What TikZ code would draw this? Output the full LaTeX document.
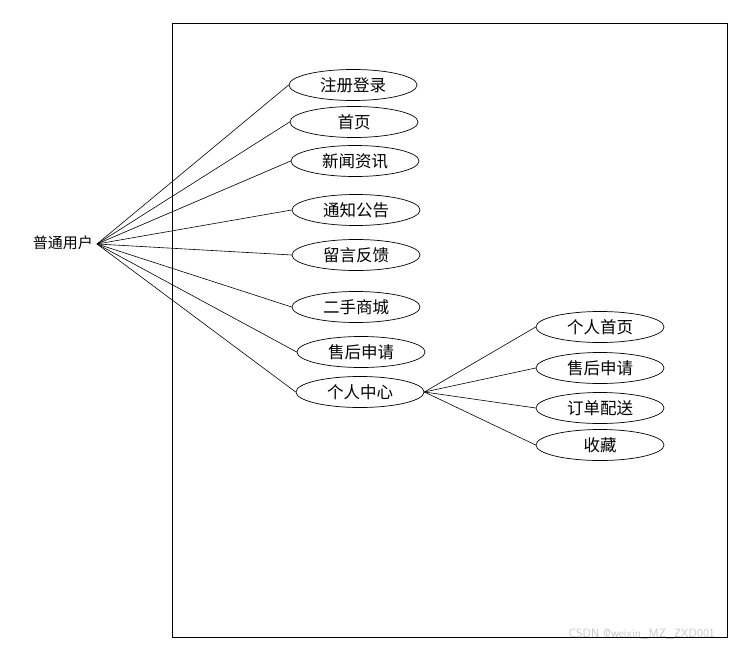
\documentclass[tikz,border=0pt]{standalone}
\usepackage{fontspec}
\usetikzlibrary{shapes.geometric}
\newfontfamily\cjk{Noto Sans CJK SC}
\begin{document}
\begin{tikzpicture}[x=1pt,y=-1pt,
  uc/.style={draw,ellipse,minimum width=128pt,minimum height=31pt,inner sep=0pt,font=\cjk\fontsize{16.5}{16.5}\selectfont,line width=0.7pt},
  conn/.style={line width=0.6pt}]
\useasboundingbox (0,0) rectangle (735,647);
\node[draw,line width=0.7pt,minimum width=555pt,minimum height=614pt,inner sep=0pt,anchor=north west] (sys) at (172,23) {};
\coordinate (act) at (97,244);
\node[anchor=east,font=\cjk\fontsize{15}{15}\selectfont,inner sep=0pt] (actor) at (93,243) {普通用户};
\node[uc] (u1) at (353,85) {注册登录};
\node[uc] (u2) at (354,122) {首页};
\node[uc] (u3) at (355,161) {新闻资讯};
\node[uc] (u4) at (356,210) {通知公告};
\node[uc] (u5) at (356,255) {留言反馈};
\node[uc] (u6) at (356,307) {二手商城};
\node[uc] (u7) at (361,352) {售后申请};
\node[uc] (u8) at (360,392) {个人中心};
\node[uc] (s1) at (600,327) {个人首页};
\node[uc] (s2) at (600,368) {售后申请};
\node[uc] (s3) at (600,408) {订单配送};
\node[uc] (s4) at (600,445) {收藏};
\foreach \u in {u1,u2,u3,u4,u5,u6,u7,u8}
  \draw[conn] (act) -- (\u.west);
\foreach \s in {s1,s2,s3,s4}
  \draw[conn] (u8.east) -- (\s.west);
\node[anchor=east,text=black!22,font=\sffamily\fontsize{12}{12}\selectfont,inner sep=0pt] (wm) at (715,634) {CSDN @weixin\_MZ\_ZXD001};
\end{tikzpicture}
\end{document}
